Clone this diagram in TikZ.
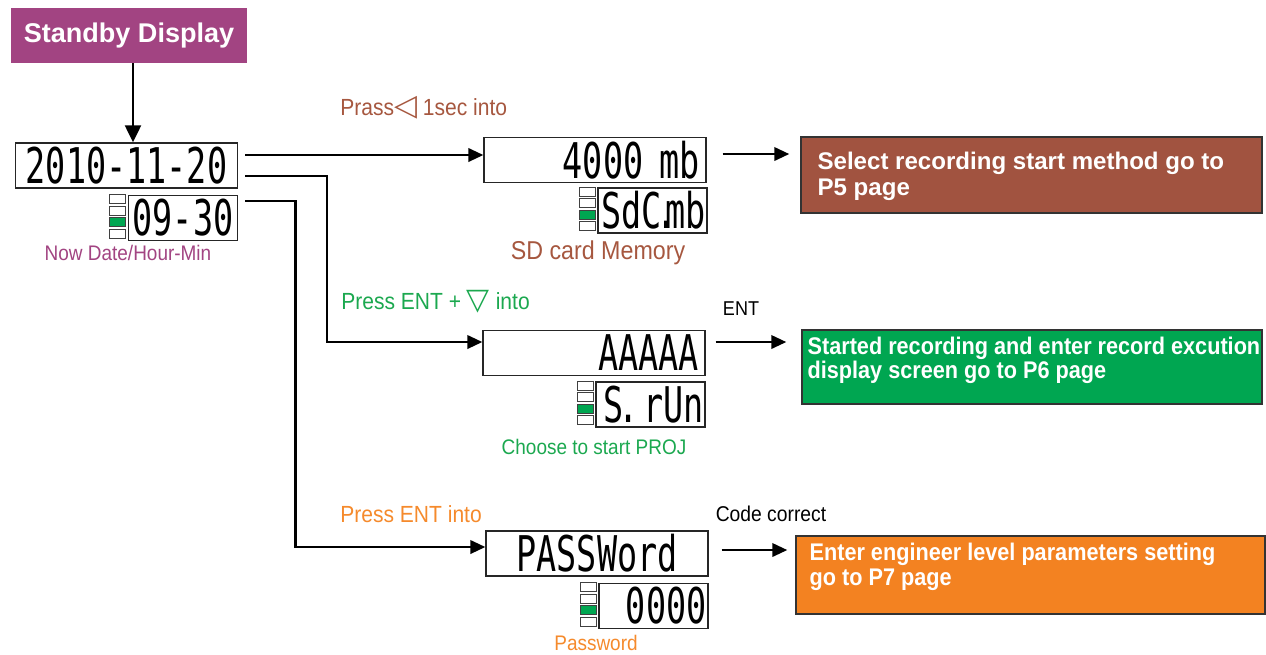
\documentclass[tikz,border=0pt]{standalone}
\usepackage{fontspec}
\setmainfont{Liberation Sans}
\newfontfamily\lblfont{Liberation Sans}[FakeStretch=0.9]
\newfontfamily\gofont{Liberation Sans}[FakeStretch=0.9]
\newfontfamily\lcdfont{DejaVu Sans Mono}[FakeStretch=0.68]
\newfontfamily\symfont{DejaVu Sans}
\usetikzlibrary{positioning, arrows.meta}
\definecolor{standbypurple}{HTML}{A24482}
\definecolor{sdbrown}{HTML}{A15340}
\definecolor{sdbrowntext}{HTML}{A6573F}
\definecolor{rungreen}{HTML}{00A651}
\definecolor{rungreentext}{HTML}{1BA84F}
\definecolor{passorange}{HTML}{F38221}
\definecolor{passorangetext}{HTML}{F58A2C}
\definecolor{ledgreen}{HTML}{00A651}
\tikzset{
  lcdbox/.style   = {draw=black!85, line width=0.8pt, minimum height=0.9cm,
                     minimum width=4.44cm, inner xsep=0.12cm, inner ysep=0pt,
                     font=\lcdfont\fontsize{28}{28}\selectfont},
  lcdright/.style = {text width=4.2cm, align=right},
  lcdsub/.style   = {lcdbox, minimum width=2.18cm, inner xsep=0.03cm},
  subright/.style = {text width=2.12cm, align=right},
  led/.style      = {draw=black!75, line width=0.5pt, fill=white,
                     minimum width=0.32cm, minimum height=0.18cm, inner sep=0pt},
  ledon/.style    = {led, fill=ledgreen},
  gobox/.style    = {draw=black!80, line width=0.9pt, inner sep=0pt},
  gotext/.style   = {anchor=west, inner sep=0pt, align=left, text=white},
  keylbl/.style   = {anchor=west, inner sep=0pt,
                     font=\lblfont\fontsize{13.3}{15}\selectfont},
  lbl/.style      = {inner sep=0pt, font=\lblfont\fontsize{12}{14}\selectfont},
  flow/.style     = {line width=1.3pt, -{Triangle[length=0.3cm, width=0.27cm]}}
}

% four status lamps left of a sub display, the third one lit
\newcommand\lcdleds[1]{%
  \foreach \k/\ledst in {1/led, 2/led, 3/ledon, 4/led}
    \node[\ledst] (#1-led\k) at ([xshift=-0.2cm, yshift={-0.09cm-(\k-1)*0.23cm}]#1.north west) {};%
}

\begin{document}
\begin{tikzpicture}[x=0.02cm, y=-0.02cm]
  \useasboundingbox (0,0) rectangle (1266,654);

  % standby screen
  \node[fill=standbypurple, text=white, minimum width=4.72cm, minimum height=1.1cm,
        font=\bfseries\fontsize{15.4}{18}\selectfont] (standby) at (129,35.5) {Standby Display};
  \node[lcdbox] (date) at (126.5,165.5) {2010-11-20};
  \node[lcdsub, below left=0.12cm and 0cm of date.south east] (time) {09-30};
  \lcdleds{time}
  \node[lbl, text=standbypurple] (nowlbl) at (128,253) {Now Date/Hour-Min};

  % SD card memory
  \node[lcdbox, lcdright] (sd) at (595,160) {4000 mb};
  \node[lcdsub, subright, below left=0.08cm and -0.02cm of sd.south east] (sdsub)
        {\mbox{SdC\kern-.1em.\kern-.24em mb}};
  \lcdleds{sdsub}
  \node[lbl, text=sdbrowntext, font=\lblfont\fontsize{14.7}{17}\selectfont] (sdlbl)
        at (598,253) {SD card Memory};

  % start recording
  \node[lcdbox, lcdright] (run) at (594,353) {AAAAA};
  \node[lcdsub, subright, below left=0.1cm and 0cm of run.south east] (runsub)
        {\mbox{S\kern-.1em.\kern-.24em\ rUn}};
  \lcdleds{runsub}
  \node[lbl, text=rungreentext] (runlbl) at (594,447) {Choose to start PROJ};

  % password entry
  \node[lcdbox] (pass) at (597,553.5) {PASSWord};
  \node[lcdsub, subright, below left=0.12cm and 0cm of pass.south east] (passsub) {0000};
  \lcdleds{passsub}
  \node[lbl, text=passorangetext] (passlbl) at (596,643) {Password};

  % key hints
  \node[keylbl, text=sdbrowntext] (sdkey) at (340,108)
        {Prass{\symfont\fontsize{17}{17}\selectfont ◁} 1sec into};
  \node[keylbl, text=rungreentext] (runkey) at (341,302)
        {Press ENT + {\symfont\fontsize{17}{17}\selectfont ▽} into};
  \node[keylbl, text=passorangetext] (passkey) at (340,514) {Press ENT into};
  \node[lbl, font=\lblfont\fontsize{11.4}{13}\selectfont] (entlbl) at (741,309) {ENT};
  \node[lbl, font=\lblfont\fontsize{12.2}{14}\selectfont] (codelbl) at (771,514) {Code correct};

  % next pages
  \node[gobox, fill=sdbrown, minimum width=9.22cm, minimum height=1.52cm] (p5) at (1031.5,175) {};
  \node[gotext, font=\bfseries\fontsize{13.7}{14.8}\selectfont] (p5text)
        at ([xshift=0.34cm, yshift=-0.03cm]p5.west)
        {Select recording start method go to\\P5 page};
  \node[gobox, fill=rungreen, minimum width=9.2cm, minimum height=1.48cm] (p6) at (1032,367) {};
  \node[gotext, font=\gofont\bfseries\fontsize{13.7}{13.7}\selectfont] (p6text)
        at ([xshift=0.12cm, yshift=0.14cm]p6.west)
        {Started recording and enter record excution\\display screen go to P6 page};
  \node[gobox, fill=passorange, minimum width=9.38cm, minimum height=1.56cm] (p7) at (1030.5,575) {};
  \node[gotext, font=\gofont\bfseries\fontsize{13.7}{14.2}\selectfont] (p7text)
        at ([xshift=0.28cm, yshift=0.17cm]p7.west)
        {Enter engineer level parameters setting\\go to P7 page};

  % connectors
  \draw[line width=1.3pt, -{Triangle[length=0.34cm, width=0.32cm]}]
        ([xshift=0.08cm]standby.south) -- ([xshift=0.08cm]standby.south |- date.north);
  \draw[flow] ([xshift=0.14cm, yshift=0.21cm]date.east) -- ([yshift=0.21cm]date.east -| sd.west);
  \draw[flow] ([xshift=0.14cm, yshift=-0.21cm]date.east)
        -| ([xshift=-3.1cm, yshift=0.22cm]run.west) -- ([yshift=0.22cm]run.west);
  \draw[flow] ([xshift=0.14cm, yshift=-0.12cm]time.north east)
        -| ([xshift=-3.8cm, yshift=0.13cm]pass.west) -- ([yshift=0.13cm]pass.west);
  \draw[flow, shorten >=0.22cm] ([xshift=0.32cm, yshift=0.12cm]sd.east)
        -- ([yshift=0.12cm]sd.east -| p5.west);
  \draw[flow, shorten >=0.3cm] ([xshift=0.2cm, yshift=0.22cm]run.east)
        -- ([yshift=0.22cm]run.east -| p6.west);
  \draw[flow, shorten >=0.16cm] ([xshift=0.26cm, yshift=0.07cm]pass.east)
        -- ([yshift=0.07cm]pass.east -| p7.west);
\end{tikzpicture}
\end{document}
